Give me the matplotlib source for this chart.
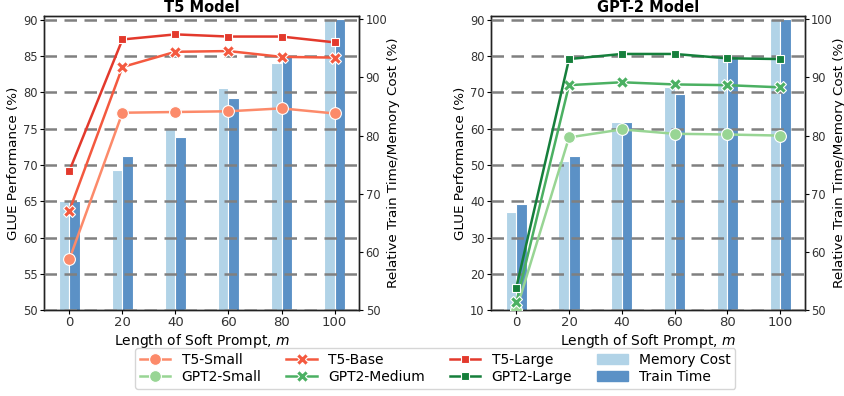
import numpy as np
import matplotlib.pyplot as plt
from matplotlib.lines import Line2D
from matplotlib.patches import Patch

# soft prompt lengths
prompt_len = [0, 20, 40, 60, 80, 100]

# T5 GLUE scores
t5_small = [57.0, 77.2, 77.3, 77.4, 77.8, 77.1]
t5_base = [63.7, 83.5, 85.6, 85.7, 84.9, 84.8]
t5_large = [69.2, 87.3, 88.0, 87.7, 87.7, 86.9]
t5_memory = [68.7, 74.1, 81.2, 88.2, 92.4, 100.0]
t5_train = [68.8, 76.4, 79.7, 86.4, 93.9, 100.0]

# GPT-2 GLUE scores
gpt2_small = [10.0, 57.6, 59.8, 58.6, 58.4, 58.1]
gpt2_medium = [12.1, 72.0, 72.8, 72.2, 72.0, 71.4]
gpt2_large = [16.2, 79.2, 80.6, 80.6, 79.4, 79.2]
gpt2_memory = [66.9, 75.6, 82.3, 88.3, 93.5, 100.0]
gpt2_train = [68.2, 76.4, 82.3, 87.1, 93.9, 100.0]

reds = ['#fc8a6a', '#f4593f', '#e3392c']
greens = ['#98d594', '#4bb062', '#157f3b']
mem_color = '#b1d3e7'
train_color = '#5b91c6'

plt.rcParams['font.family'] = ['DejaVu Sans']


def draw_panel(rect, title, lines, colors, memory, train, ylim, yticks):
    ax = fig.add_axes(rect)
    ax2 = ax.twinx()
    x = np.arange(len(prompt_len))
    w = 0.2
    ax2.bar(x - w / 2, memory, w, color=mem_color, edgecolor='white', lw=0.8)
    ax2.bar(x + w / 2, train, w, color=train_color, edgecolor='white', lw=0.8)
    ax2.set_ylim(50, 100.5)
    ax2.set_yticks([50, 60, 70, 80, 90, 100])
    ax2.set_ylabel('Relative Train Time/Memory Cost (%)', fontsize=9.7, labelpad=0)

    ax.set_zorder(ax2.get_zorder() + 1)
    ax.patch.set_visible(False)
    markers = ['o', 'X', 's']
    sizes = [8.5, 8.5, 6]
    for vals, c, m, s in zip(lines, colors, markers, sizes):
        ax.plot(x, vals, color=c, marker=m, ms=s, mec='white', mew=0.8, lw=1.8, zorder=3)
    ax.set_ylim(*ylim)
    ax.set_yticks(yticks)
    ax.set_xlim(-0.48, 5.47)
    ax.set_xticks(x)
    ax.set_xticklabels([str(v) for v in prompt_len])
    ax.yaxis.grid(True, linestyle='--', color='gray', lw=1.8, dashes=(5, 3))
    ax.set_axisbelow(False)
    ax.set_title(title, fontsize=10.5, fontweight='bold', pad=3)
    ax.set_ylabel('GLUE Performance (%)', fontsize=9.7, labelpad=2)
    ax.set_xlabel('Length of Soft Prompt, $m$', fontsize=10, labelpad=2)
    for a in (ax, ax2):
        a.tick_params(labelsize=8.3, labelcolor='#333333', length=3, width=0.8, pad=1.5)
        for sp in a.spines.values():
            sp.set_linewidth(1.0)
            sp.set_color('#222222')
    ax.tick_params(axis='x', labelsize=9.5)


fig = plt.figure(figsize=(8.45, 3.96), dpi=100)

draw_panel([0.052, 0.217, 0.3734, 0.742], 'T5 Model',
           [t5_small, t5_base, t5_large],
           reds, t5_memory, t5_train, (50, 90.5), [50, 55, 60, 65, 70, 75, 80, 85, 90])
draw_panel([0.581, 0.217, 0.3716, 0.742], 'GPT-2 Model',
           [gpt2_small, gpt2_medium, gpt2_large],
           greens, gpt2_memory, gpt2_train, (10, 91), [10, 20, 30, 40, 50, 60, 70, 80, 90])

handles = []
labels = []
markers = ['o', 'X', 's']
sizes = [8.5, 8.5, 6]
t5_names = ['T5-Small', 'T5-Base', 'T5-Large']
gpt_names = ['GPT2-Small', 'GPT2-Medium', 'GPT2-Large']
for i in range(3):
    handles.append(Line2D([], [], color=reds[i], marker=markers[i], ms=sizes[i], mec='white', mew=0.8, lw=1.8))
    labels.append(t5_names[i])
    handles.append(Line2D([], [], color=greens[i], marker=markers[i], ms=sizes[i], mec='white', mew=0.8, lw=1.8))
    labels.append(gpt_names[i])
handles += [Patch(color=mem_color), Patch(color=train_color)]
labels += ['Memory Cost', 'Train Time']

fig.legend(handles, labels, ncol=4, loc='lower center', bbox_to_anchor=(0.515, 0.0),
           fontsize=10, frameon=True, columnspacing=1.8, handlelength=2.2,
           labelspacing=0.25, borderpad=0.35)

fig.savefig('out.png', dpi=100)
